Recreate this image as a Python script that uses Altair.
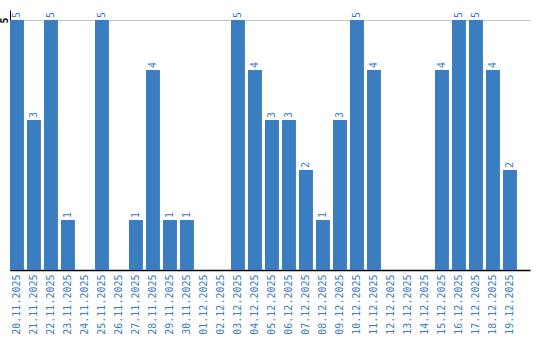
import altair as alt
import pandas as pd

dates = ["20.11.2025", "21.11.2025", "22.11.2025", "23.11.2025", "24.11.2025",
         "25.11.2025", "26.11.2025", "27.11.2025", "28.11.2025", "29.11.2025",
         "30.11.2025", "01.12.2025", "02.12.2025", "03.12.2025", "04.12.2025",
         "05.12.2025", "06.12.2025", "07.12.2025", "08.12.2025", "09.12.2025",
         "10.12.2025", "11.12.2025", "12.12.2025", "13.12.2025", "14.12.2025",
         "15.12.2025", "16.12.2025", "17.12.2025", "18.12.2025", "19.12.2025"]
values = [5, 3, 5, 1, 0, 5, 0, 1, 4, 1,
          1, 0, 0, 5, 4, 3, 3, 2, 1, 3,
          5, 4, 0, 0, 0, 4, 5, 5, 4, 2]

df = pd.DataFrame({"date": dates, "value": values})
df["label"] = [str(v) if v > 0 else "" for v in values]

BLUE = "#3b7dc1"
FONT = "DejaVu Sans Mono"

x = alt.X("date:N", sort=dates, title=None,
          scale=alt.Scale(paddingInner=0.18, paddingOuter=0.384, align=0),
          axis=alt.Axis(labelAngle=-90, labelAlign="right", labelBaseline="middle",
                        labelColor=BLUE, labelFont=FONT, labelFontSize=10,
                        labelPadding=4, ticks=False, domainColor="#000000",
                        domainWidth=1.5, grid=False))
y = alt.Y("value:Q", title=None,
          scale=alt.Scale(domain=[0, 5.2], nice=False),
          axis=alt.Axis(values=[5], labelAngle=-90, labelAlign="center",
                        labelBaseline="bottom", labelColor="#000000", labelFont=FONT,
                        labelFontSize=10, labelPadding=1, ticks=False,
                        domainColor="#000000", grid=True, gridColor="#c8c8c8",
                        labelFontWeight="bold"))

bars = alt.Chart(df).mark_bar(color=BLUE).encode(x=x, y=y)
text = alt.Chart(df).mark_text(angle=270, align="left", baseline="middle", dx=2,
                               color=BLUE, font=FONT, fontSize=10).encode(
    x=alt.X("date:N", sort=dates), y="value:Q", text="label:N")

chart = (bars + text).properties(
    width=520, height=260,
    background="white",
    padding={"left": 10, "top": 10, "right": 10, "bottom": 70},
    autosize=alt.AutoSizeParams(type="none"),
).configure_view(stroke=None)

chart.save("out.html", embed_options={"renderer": "svg", "actions": False})
